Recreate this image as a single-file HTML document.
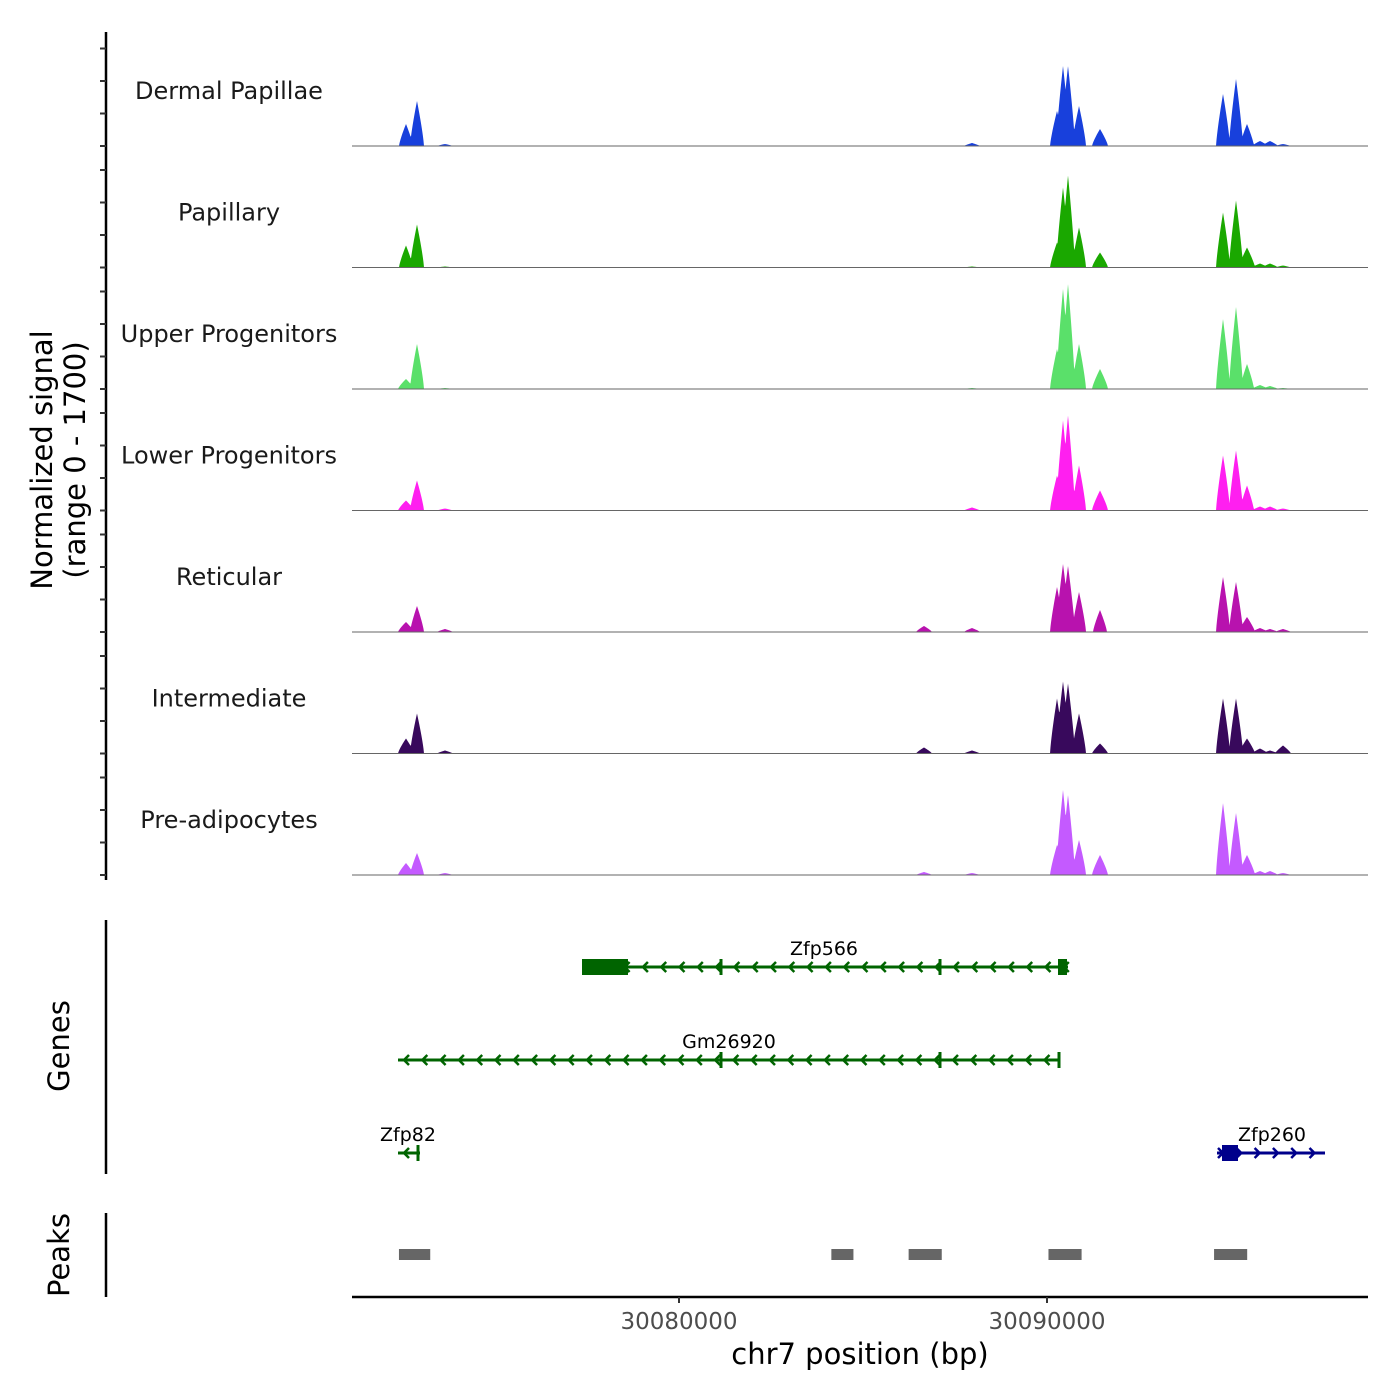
<!DOCTYPE html>
<html><head><meta charset="utf-8"><style>
body{margin:0;background:#fff}
svg{display:block;font-family:"DejaVu Sans","Liberation Sans",sans-serif}
</style></head><body>
<svg id="chart" width="1400" height="1400" viewBox="0 0 1400 1400"></svg>
<script>
const trackNames=["Dermal Papillae","Papillary","Upper Progenitors","Lower Progenitors","Reticular","Intermediate","Pre-adipocytes"];
const trackColors=["#1840dc","#1aa800","#5ae06a","#ff1ff0","#b812ae","#38095c","#c45aff"];
const peakPositions=[30072581,30072880,30073641,30086658,30087962,30090272,30090435,30090571,30090870,30091440,30094783,30095136,30095435,30095788,30096060,30096413];
const sigDermal=[308,630,28,0,42,490,1120,1120,560,238,728,938,308,70,70,28];
const sigPapillary=[308,602,14,0,14,350,1120,1288,560,210,770,938,280,56,56,28];
const sigUpper=[140,630,14,0,14,560,1400,1470,630,280,980,1148,350,56,42,14];
const sigLower=[140,420,28,0,42,490,1260,1330,630,280,770,840,350,56,56,28];
const sigReticular=[140,364,42,84,56,630,952,924,560,308,770,700,210,56,42,42];
const sigIntermediate=[210,560,42,84,42,770,1008,980,560,140,770,770,210,70,42,112];
const sigPreadipo=[168,308,28,42,28,420,1190,1120,490,280,1008,868,280,56,56,28];
const trackSignals=[sigDermal,sigPapillary,sigUpper,sigLower,sigReticular,sigIntermediate,sigPreadipo];
const xTicks=[30080000,30090000];
const peakStarts=[30072390,30084140,30086240,30090040,30094540];
const peakEnds=[30073240,30084740,30087140,30090940,30095440];

const svg=document.getElementById('chart');
const NS='http://www.w3.org/2000/svg';
function el(tag,attrs,parent){const e=document.createElementNS(NS,tag);for(const k in attrs)e.setAttribute(k,attrs[k]);(parent||svg).appendChild(e);return e;}
const X0=352,X1=1368;
function xs(bp){return 679+(bp-30080000)*0.0368;}
const trackH=121.5,yMax=1700;
function ys(v,base){return base-v/yMax*trackH;}

const ax=el('line',{x1:106,y1:32,x2:106,y2:880,stroke:'#000','stroke-width':2.5});

for(let t=0;t<7;t++){
  const base=146+t*121.5;
  for(let k=0;k<4;k++){
    const yy=base-k*32.5;
    const tk=el('line',{x1:100,y1:yy,x2:106,y2:yy,stroke:'#333','stroke-width':2});
    
  }
}

const yt=el('text',{x:0,y:0,transform:'translate(52,460) rotate(-90)','text-anchor':'middle','font-size':29,fill:'#000'});

el('tspan',{x:0,dy:0},yt).textContent='Normalized signal';
el('tspan',{x:0,dy:33},yt).textContent='(range 0 - 1700)';

trackNames.forEach((name,t)=>{
  const base=146+t*121.5;
  const g=el('g',{});
  
  
  const lab=el('text',{x:229,y:base-54,'text-anchor':'middle','font-size':24,fill:'#1a1a1a','dominant-baseline':'middle'},g);
  
  lab.textContent=name;
  const sig=trackSignals[t];
  let d='M'+X0+','+base;
  for(let px=396;px<=1330;px+=0.5){
    let v=0;
    peakPositions.forEach((p,i)=>{
      const dx=Math.abs(xs(p)-px);
      const w=sig[i]>300?7:8;
      if(dx<w){const f=1-dx/w;v=Math.max(v,sig[i]*Math.pow(f,0.8));}
    });
    d+=' L'+px+','+ys(v,base).toFixed(2);
  }
  d+=' L'+X1+','+base+' Z';
  const area=el('path',{d:d,fill:trackColors[t],stroke:'none'},g);
  
  const bl=el('line',{x1:X0,y1:base,x2:X1,y2:base,stroke:'#666','stroke-width':1},g);
  
});

const ga=el('line',{x1:106,y1:920,x2:106,y2:1174,stroke:'#000','stroke-width':2.5});

const gt=el('text',{x:0,y:0,transform:'translate(69,1046) rotate(-90)','text-anchor':'middle','font-size':29});
gt.textContent='Genes';
const pt=el('text',{x:0,y:0,transform:'translate(69,1255) rotate(-90)','text-anchor':'middle','font-size':29});
pt.textContent='Peaks';
const pa=el('line',{x1:106,y1:1213,x2:106,y2:1297,stroke:'#000','stroke-width':2.5});


function gene(name,x1,x2,y,color,dir,lx,ticks,boxes){
  const g=el('g',{});
  
  el('line',{x1:x1,y1:y,x2:x2,y2:y,stroke:color,'stroke-width':3},g);
  for(let x=x1+6;x<x2-4;x+=18.3){
    const s=dir<0?5:-5;
    el('polyline',{points:`${x+s},${y-5} ${x},${y} ${x+s},${y+5}`,fill:'none',stroke:color,'stroke-width':2.5},g);
  }
  ticks.forEach(tx=>el('line',{x1:tx,y1:y-8,x2:tx,y2:y+8,stroke:color,'stroke-width':3},g));
  boxes.forEach(b=>el('rect',{x:b[0],y:y-8,width:b[1]-b[0],height:16,fill:color},g));
  const t=el('text',{x:lx,y:y-12,'text-anchor':'middle','font-size':19,fill:'#000'},g);
  t.textContent=name;
}
gene('Zfp566',582,1068,967,'#006400',-1,824,[721,940],[[582,628],[1058,1067]]);
gene('Gm26920',398,1060,1060,'#006400',-1,729,[721,940,1059],[]);
gene('Zfp82',398,420,1153,'#006400',-1,408,[418],[]);
gene('Zfp260',1217,1325,1153,'#00008b',1,1272,[],[[1222,1238]]);

peakStarts.forEach((s,i)=>{
  const r=el('rect',{x:xs(s),y:1249,width:xs(peakEnds[i])-xs(s),height:11,fill:'#666'});
  
});

const xa=el('line',{x1:X0,y1:1297,x2:X1,y2:1297,stroke:'#000','stroke-width':2.5});

xTicks.forEach(v=>{
  const tl=el('line',{x1:xs(v),y1:1297,x2:xs(v),y2:1303,stroke:'#333','stroke-width':2});
  
  const tx=el('text',{x:xs(v),y:1329,'text-anchor':'middle','font-size':23,fill:'#4d4d4d'});
  
  tx.textContent=v;
});
const xt=el('text',{x:860,y:1364,'text-anchor':'middle','font-size':29,fill:'#000'});

xt.textContent='chr7 position (bp)';
</script>
</body></html>
